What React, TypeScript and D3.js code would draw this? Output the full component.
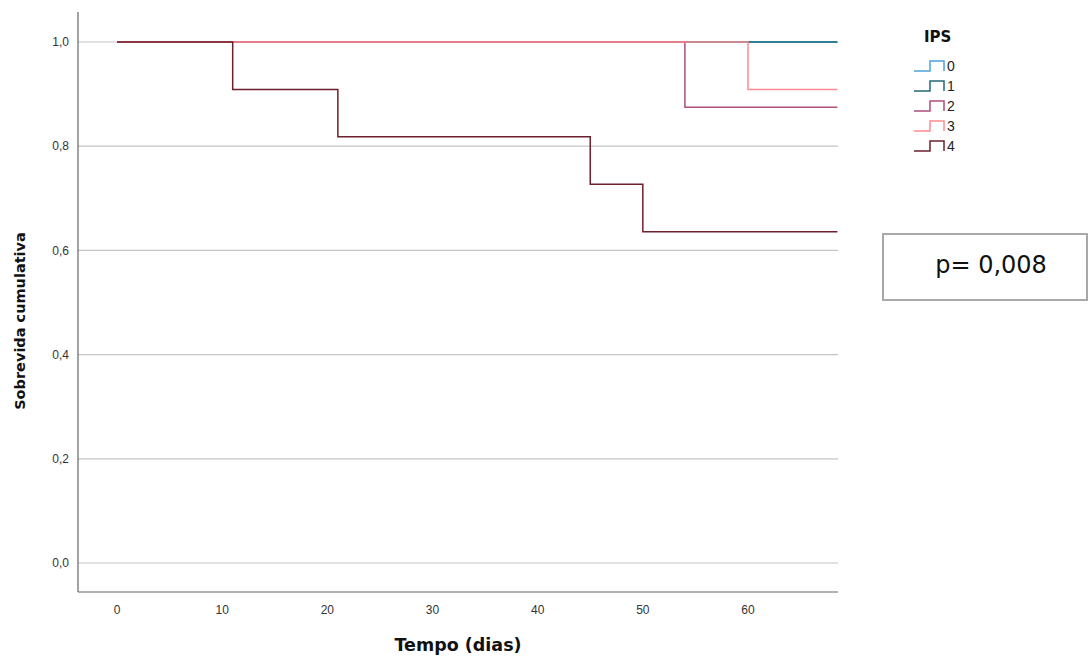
import React from "react";
import * as d3 from "d3";

const groups = ["0", "1", "2", "3", "4"];
const colors = ["#4aa3df", "#1f6b78", "#b04e7c", "#ff8a8e", "#6e1f2c"];
// step times and survival values for each group (time, survival)
const survival0: [number, number][] = [[0, 1.0], [68.5, 1.0]];
const survival1: [number, number][] = [[0, 1.0], [68.5, 1.0]];
const survival2: [number, number][] = [[0, 1.0], [54, 0.875], [68.5, 0.875]];
const survival3: [number, number][] = [[0, 1.0], [60, 0.909], [68.5, 0.909]];
const survival4: [number, number][] = [[0, 1.0], [11, 0.909], [21, 0.818], [45, 0.727], [50, 0.636], [68.5, 0.636]];
const series = [survival0, survival1, survival2, survival3, survival4];
const xTicks = [0, 10, 20, 30, 40, 50, 60];
const yTicks = [0, 0.2, 0.4, 0.6, 0.8, 1.0];

export default function App() {
  const left = 78, right = 838, top = 12, bottom = 592;
  const x = d3.scaleLinear().domain([0, 60]).range([117, 748]);
  const y = d3.scaleLinear().domain([0, 1]).range([563, 42]);
  const line = d3
    .line<[number, number]>()
    .x((d) => x(d[0]))
    .y((d) => y(d[1]))
    .curve(d3.curveStepAfter);
  const fmt = (v: number) => v.toFixed(1).replace(".", ",");
  const legendY = (i: number) => 66 + i * 20;
  return (
    <svg width={1088} height={657} style={{ position: "absolute", left: 0, top: 0, background: "#fff" }}>
      {yTicks.map((t) => (
        <g key={t}>
          <line x1={left} x2={right} y1={y(t)} y2={y(t)} stroke="#c4c4c4" strokeWidth={1.2} />
          <text x={69} y={y(t)} dy="0.35em" textAnchor="end" fontFamily="Liberation Sans, Arial, sans-serif" fontSize={12} fill="#333">
            {fmt(t)}
          </text>
        </g>
      ))}
      {xTicks.map((t) => (
        <text key={t} x={x(t)} y={610} dy="0.35em" textAnchor="middle" fontFamily="Liberation Sans, Arial, sans-serif" fontSize={12} fill="#333">
          {t}
        </text>
      ))}
      <line x1={left} x2={left} y1={top} y2={bottom} stroke="#666" strokeWidth={1.2} />
      <line x1={left} x2={right} y1={bottom} y2={bottom} stroke="#666" strokeWidth={1.2} />
      {series.map((s, i) => (
        <path key={i} d={line(s) || ""} fill="none" stroke={colors[i]} strokeWidth={1.5} />
      ))}
      <text x={458} y={645} dy="0.35em" textAnchor="middle" fontFamily="DejaVu Sans, Verdana, sans-serif" fontWeight="bold" fontSize={17.5} fill="#111">
        Tempo (dias)
      </text>
      <text transform="translate(20,321) rotate(-90)" textAnchor="middle" dy="0.35em" fontFamily="DejaVu Sans, Verdana, sans-serif" fontWeight="bold" fontSize={14.5} fill="#111">
        Sobrevida cumulativa
      </text>
      <text x={924} y={37} dy="0.35em" fontFamily="DejaVu Sans, Verdana, sans-serif" fontWeight="bold" fontSize={15} fill="#111">
        IPS
      </text>
      {groups.map((g, i) => (
        <g key={g}>
          <path
            d={`M914,${legendY(i) + 5}H930V${legendY(i) - 5}H944V${legendY(i) + 5}`}
            fill="none"
            stroke={colors[i]}
            strokeWidth={1.5}
          />
          <text x={947} y={legendY(i)} dy="0.35em" fontFamily="Liberation Sans, Arial, sans-serif" fontSize={14} fill="#222">
            {g}
          </text>
        </g>
      ))}
      <rect x={883} y={234} width={204} height={66} fill="#fff" stroke="#a8a8a8" strokeWidth={2} />
      <text x={991} y={265} dy="0.35em" textAnchor="middle" fontFamily="DejaVu Sans, Verdana, sans-serif" fontSize={24} fill="#111">
        p= 0,008
      </text>
    </svg>
  );
}
